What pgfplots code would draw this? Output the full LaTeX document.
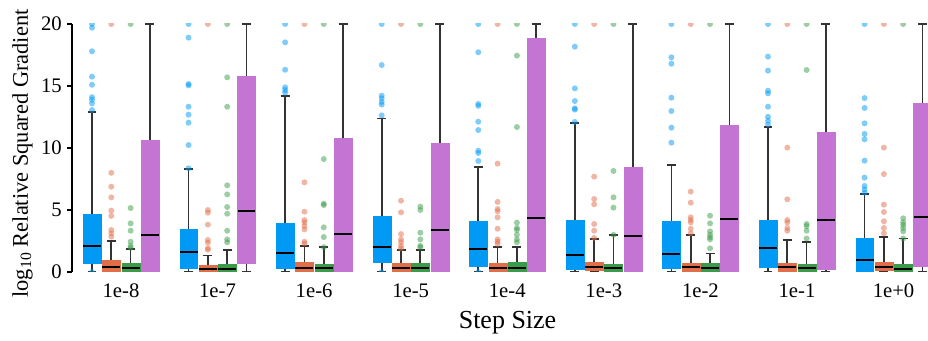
\documentclass[border=0pt]{standalone}
\usepackage{fontspec}
\setmainfont{Liberation Serif}
\usepackage{pgfplots}
\pgfplotsset{compat=1.18}
\usepgfplotslibrary{statistics}
\definecolor{cB}{HTML}{009AF5}
\definecolor{cO}{HTML}{E26E48}
\definecolor{cG}{HTML}{3A9B48}
\definecolor{cP}{HTML}{C475D3}
\definecolor{wcol}{HTML}{333333}
\pgfplotsset{
  bxstyle/.style={draw=wcol, line width=1.7bp, fill=#1, mark=*, mark size=3bp,
    mark options={draw=#1, draw opacity=0, fill=#1, fill opacity=0.5, line width=0.1bp},
    boxplot/draw direction=y,
    boxplot/box extend=0.186, boxplot/whisker extend=0.093,
    boxplot/every box/.style={draw=#1, fill=#1, line width=0.1bp},
    boxplot/every whisker/.style={draw=wcol, line width=1.7bp, fill=none},
    boxplot/every median/.style={draw=black, line width=1.8bp, fill=none}}
}
% position, colour, lower whisker, lower quartile, median, upper quartile, upper whisker, outliers
\newcommand{\bx}[8]{%
\addplot[bxstyle=#2, boxplot prepared={draw position=#1, lower whisker=#3, lower quartile=#4, median=#5, upper quartile=#6, upper whisker=#7}]
  table[row sep=\\, y index=0] {v\\ #8};}
\newcommand{\bxn}[7]{%
\addplot[bxstyle=#2, boxplot prepared={draw position=#1, lower whisker=#3, lower quartile=#4, median=#5, upper quartile=#6, upper whisker=#7}]
  coordinates {};}
\begin{document}
\begin{tikzpicture}
\useasboundingbox (0,0) rectangle (928bp,341bp);
\begin{axis}[
  at={(72bp,69bp)}, anchor=south west,
  scale only axis, width=856bp, height=248bp,
  xmin=-0.507, xmax=8.357, ymin=0, ymax=20,
  clip marker paths=true,
  axis y line*=left, axis x line*=bottom,
  x axis line style={draw=none},
  y axis line style={draw=black, line width=1.2bp},
  xtick={0,...,8},
  xticklabels={1e-8,1e-7,1e-6,1e-5,1e-4,1e-3,1e-2,1e-1,1e+0},
  xtick style={draw=none},
  ytick={0,5,10,15,20},
  ytick style={draw=black, line width=1.2bp},
  tick align=outside, major tick length=5bp,
  /pgf/number format/assume math mode=true,
  tick label style={font=\fontsize{20.7bp}{24bp}\selectfont},
  yticklabel style={anchor=east, inner sep=0pt, xshift=-5bp},
  xticklabel style={anchor=base, inner sep=0pt, yshift=-20.5bp},
  xlabel={Step Size},
  xlabel style={font=\fontsize{26bp}{30bp}\selectfont, at={(axis description cs:0.5088,-0.2298)}, anchor=base, inner sep=0pt},
  ylabel={log\textsubscript{10} Relative Squared Gradient},
  ylabel style={font=\fontsize{22.4bp}{26bp}\selectfont, at={(axis description cs:-0.0578,0.478)}, anchor=center, inner sep=0pt},
]
% 1e-8
\bx{-0.3}{cB}{0}{0.75}{2.1}{4.68}{12.93}{20\\ 19.7\\ 17.8\\ 15.75\\ 15.1\\ 14.1\\ 13.9\\ 13.6\\ 13.06\\ 0\\}
\bx{-0.1}{cO}{0}{0.1}{0.43}{0.97}{2.52}{20\\ 8.0\\ 6.88\\ 6.02\\ 4.95\\ 4.52\\ 3.39\\ 3.12\\ 2.85\\}
\bx{0.1}{cG}{0}{0.1}{0.32}{0.7}{1.83}{20\\ 5.16\\ 3.92\\ 3.33\\ 2.44\\ 2.1\\ 1.95\\}
\bxn{0.3}{cP}{0}{0.1}{2.96}{10.65}{20}
% 1e-7
\bx{0.7}{cB}{0}{0.35}{1.64}{3.44}{8.28}{20\\ 18.9\\ 15.16\\ 15.05\\ 13.33\\ 12.69\\ 12.04\\ 10.24\\ 8.36\\}
\bx{0.9}{cO}{0}{0.05}{0.27}{0.54}{1.32}{20\\ 5.0\\ 4.78\\ 3.82\\ 2.58\\ 2.36\\ 1.91\\ 1.8\\}
\bx{1.1}{cG}{0}{0.0}{0.21}{0.65}{1.77}{20\\ 15.7\\ 13.33\\ 6.99\\ 6.26\\ 5.24\\ 4.7\\ 3.33\\ 2.63\\ 2.4\\}
\bxn{1.3}{cP}{0}{0.75}{4.92}{15.8}{20}
% 1e-6
\bx{1.7}{cB}{0}{0.35}{1.53}{3.95}{14.19}{20\\ 18.52\\ 16.31\\ 14.89\\ 14.68\\ 14.46\\}
\bx{1.9}{cO}{0}{0}{0.35}{0.78}{2.12}{20\\ 7.23\\ 4.86\\ 4.19\\ 4.0\\ 3.71\\ 3.44\\ 2.44\\ 2.3\\}
\bx{2.1}{cG}{0}{0.1}{0.32}{0.65}{1.99}{20\\ 9.11\\ 5.51\\ 5.4\\ 3.6\\ 2.82\\ 2.0\\}
\bxn{2.3}{cP}{0}{0.1}{3.09}{10.8}{20}
% 1e-5
\bx{2.7}{cB}{0}{0.78}{2.04}{4.52}{12.39}{20\\ 16.69\\ 14.22\\ 14.0\\ 13.71\\ 13.5\\ 12.63\\ 0\\}
\bx{2.9}{cO}{0}{0}{0.35}{0.7}{1.8}{20\\ 5.75\\ 4.81\\ 3.06\\ 2.63\\ 2.4\\ 2.1\\ 1.9\\}
\bx{3.1}{cG}{0}{0}{0.32}{0.7}{1.77}{20\\ 5.27\\ 5.0\\ 3.17\\ 2.63\\ 2.1\\ 2.0\\}
\bxn{3.3}{cP}{0}{0.1}{3.41}{10.4}{20}
% 1e-4
\bx{3.7}{cB}{0}{0.51}{1.85}{4.11}{8.49}{20\\ 17.72\\ 13.55\\ 13.4\\ 12.12\\ 11.45\\ 9.78\\ 9.6\\ 8.95\\ 0\\}
\bx{3.9}{cO}{0}{0}{0.3}{0.75}{2.04}{20\\ 8.74\\ 5.65\\ 5.08\\ 4.9\\ 4.41\\ 3.49\\ 2.63\\ 2.45\\ 2.26\\}
\bx{4.1}{cG}{0}{0}{0.35}{0.81}{2.04}{20\\ 17.45\\ 11.69\\ 3.98\\ 3.55\\ 3.4\\ 3.01\\ 2.63\\ 2.4\\}
\bxn{4.3}{cP}{0}{0}{4.33}{18.87}{20}
% 1e-3
\bx{4.7}{cB}{0}{0.27}{1.37}{4.19}{11.99}{20\\ 18.17\\ 14.81\\ 13.79\\ 13.2\\ 13.1\\ 12.1\\}
\bx{4.9}{cO}{0}{0.16}{0.43}{0.81}{2.66}{20\\ 7.69\\ 5.89\\ 5.46\\ 3.87\\ 3.33\\ 2.75\\}
\bx{5.1}{cG}{0}{0}{0.32}{0.65}{2.96}{20\\ 8.15\\ 6.02\\ 5.19\\ 3.0\\}
\bxn{5.3}{cP}{0}{0}{2.9}{8.47}{20}
% 1e-2
\bx{5.7}{cB}{0}{0.35}{1.43}{4.11}{8.63}{20\\ 17.31\\ 16.8\\ 14.06\\ 12.98\\ 11.64\\ 10.43\\}
\bx{5.9}{cO}{0}{0}{0.43}{0.75}{3.01}{20\\ 6.48\\ 5.59\\ 4.41\\ 4.2\\ 4.0\\ 3.49\\ 3.12\\}
\bx{6.1}{cG}{0}{0}{0.3}{0.75}{1.5}{20\\ 4.54\\ 3.92\\ 3.28\\ 3.0\\ 2.8\\ 2.63\\ 1.91\\}
\bxn{6.3}{cP}{0}{0}{4.3}{11.85}{20}
% 1e-1
\bx{6.7}{cB}{0}{0.43}{1.96}{4.19}{11.72}{20\\ 17.37\\ 16.24\\ 14.62\\ 14.4\\ 13.33\\ 12.52\\ 12.2\\ 11.9\\}
\bx{6.9}{cO}{0}{0}{0.38}{0.7}{2.6}{20\\ 10.03\\ 5.86\\ 4.19\\ 4.0\\ 3.55\\ 3.33\\}
\bx{7.1}{cG}{0}{0}{0.3}{0.65}{2.44}{20\\ 16.29\\ 3.87\\ 3.7\\ 3.33\\ 2.7\\}
\bxn{7.3}{cP}{0}{0.27}{4.17}{11.29}{20}
% 1e+0
\bx{7.7}{cB}{0}{0}{0.97}{2.74}{6.29}{20\\ 14.03\\ 13.23\\ 11.99\\ 11.13\\ 10.7\\ 8.98\\ 7.61\\ 6.94\\ 6.66\\ 6.4\\}
\bx{7.9}{cO}{0}{0.16}{0.43}{0.81}{2.85}{20\\ 10.03\\ 7.9\\ 5.43\\ 4.84\\ 4.09\\ 3.55\\ 3.12\\}
\bx{8.1}{cG}{0}{0}{0.27}{0.65}{2.69}{20\\ 4.33\\ 4.0\\ 3.8\\ 3.55\\ 3.28\\ 2.7\\}
\bxn{8.3}{cP}{0}{0.51}{4.44}{13.63}{20}
\end{axis}
\end{tikzpicture}
\end{document}
